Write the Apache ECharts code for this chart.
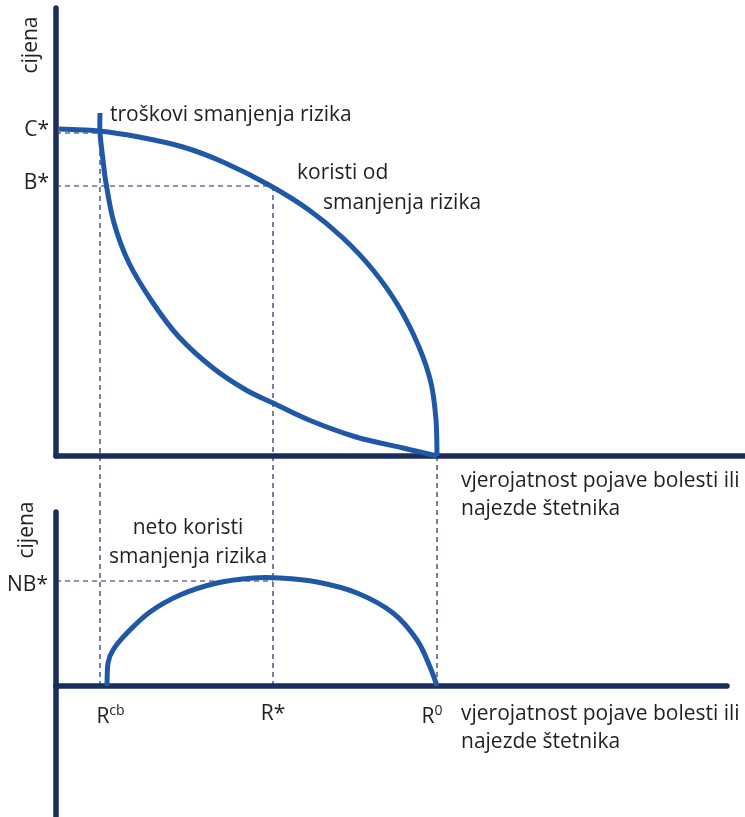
<!DOCTYPE html>
<html>
<head>
<meta charset="utf-8">
<script src="https://cdn.jsdelivr.net/npm/echarts@6/dist/echarts.min.js"></script>
<style>
  html, body { margin: 0; padding: 0; background: #fff; }
  #main { width: 745px; height: 817px; }
</style>
</head>
<body>
<div id="main"></div>
<script>
// x = vjerojatnost (rizik), y = cijena; jedinice ocitane sa slike
const benefitCurve = [[3, 327], [43, 325], [83, 319], [127, 309], [167, 294], [213, 271], [253, 246], [287, 218], [317, 186], [343, 149], [363, 109], [375, 73], [380, 36], [381, 0]];
const costCurve = [[44, 343], [44, 323], [47, 296], [50, 273], [58, 233], [73, 193], [97, 153], [123, 119], [157, 88], [190, 66], [217, 53], [253, 36], [300, 19], [347, 8], [381, 0]];
const netCurve = [[51, 0], [52, 23], [57, 36], [71, 53], [94, 74], [124, 91], [161, 103], [197, 108], [224, 108], [261, 104], [301, 93], [337, 73], [361, 46], [374, 19], [381, 0]];

const riskTicks = [44, 217, 381];          // R^cb, R*, R^0
const riskLabels = ['cb', '*', '0'];
const priceTicks = [323, 270];             // C*, B*
const priceLabels = ['C*', 'B*'];
const netTicks = [105];                    // NB*
const netLabels = ['NB*'];

const AXIS = '#1b2d5c';
const CURVE = '#1f58a6';
const TEXT = '#231f20';
const FONT = '"Open Sans", "Noto Sans", sans-serif';
const FS = 21;

// raspored
const topGrid = { left: 56, top: 8, width: 689, height: 448, outerBoundsMode: 'none', containLabel: false };
const botGrid = { left: 56, top: 512, width: 671, height: 174, outerBoundsMode: 'none', containLabel: false };
const stubGrid = { left: 56, top: 686, width: 671, height: 131, outerBoundsMode: 'none', containLabel: false };
// y u donjem sustavu na kojem lezi gornja os x
const join = (botGrid.top + botGrid.height) - (topGrid.top + topGrid.height);

const axisLine = { lineStyle: { color: AXIS, width: 5.5 } };
const hidden = { axisTick: { show: false }, splitLine: { show: false } };

const dash = { color: AXIS, width: 1.2, type: [5, 4] };
const guide = (data, grid, clip) => ({
  type: 'line', xAxisIndex: grid, yAxisIndex: grid, data: data,
  showSymbol: false, clip: clip !== false, silent: true,
  lineStyle: dash, z: 1
});

// glatka krivulja kroz ocitane tocke (Catmull-Rom -> Bezier)
function smoothPath (pts) {
  let d = 'M' + pts[0][0] + ' ' + pts[0][1];
  for (let i = 0; i < pts.length - 1; i++) {
    const p0 = pts[i - 1] || pts[i];
    const p1 = pts[i];
    const p2 = pts[i + 1];
    const p3 = pts[i + 2] || p2;
    const c1x = p1[0] + (p2[0] - p0[0]) / 6, c1y = p1[1] + (p2[1] - p0[1]) / 6;
    const c2x = p2[0] - (p3[0] - p1[0]) / 6, c2y = p2[1] - (p3[1] - p1[1]) / 6;
    d += ' C' + c1x + ' ' + c1y + ' ' + c2x + ' ' + c2y + ' ' + p2[0] + ' ' + p2[1];
  }
  return d;
}
const curve = (data, grid) => ({
  type: 'custom', xAxisIndex: grid, yAxisIndex: grid, data: data,
  encode: { x: 0, y: 1 }, silent: true, z: 3,
  renderItem: (params, api) => {
    if (params.dataIndex !== 0) return null;
    const pts = data.map(p => api.coord(p));
    return {
      type: 'path',
      shape: { pathData: smoothPath(pts) },
      style: { stroke: CURVE, lineWidth: 5, fill: 'none' }
    };
  }
});

// pomak oznaka R kako stoje na slici
const riskFmt = {
  cb: s => '{sp|}{r|R}{s|' + s + '}',
  '*': s => '{r|R' + s + '}',
  '0': s => '{r|R}{s|' + s + '}{sq|}'
};

const txt = (text, x, y, align, rot) => ({
  type: 'text', x: x, y: y, rotation: rot || 0,
  style: { text: text, font: FS + 'px ' + FONT, fill: TEXT, align: align || 'left', verticalAlign: 'middle' }
});

const chart = echarts.init(document.getElementById('main'));
const option = {
  animation: false,
  backgroundColor: '#fff',
  textStyle: { fontFamily: FONT, color: TEXT },
  grid: [topGrid, botGrid, stubGrid],
  xAxis: [
    Object.assign({ type: 'value', gridIndex: 0, min: 0, max: topGrid.width, axisLine: axisLine, axisLabel: { show: false } }, hidden),
    Object.assign({
      type: 'value', gridIndex: 1, min: 0, max: botGrid.width, axisLine: axisLine,
      axisLabel: {
        customValues: riskTicks,
        margin: 18,
        formatter: v => {
          const s = riskLabels[riskTicks.indexOf(v)];
          return riskFmt[s](s);
        },
        rich: {
          r: { fontFamily: FONT, fontSize: FS, color: TEXT },
          s: { fontFamily: FONT, fontSize: 14, color: TEXT, padding: [0, 0, 12, 0] },
          sp: { width: 21 },
          sq: { width: 10 }
        }
      }
    }, hidden),
    { type: 'value', gridIndex: 2, min: 0, max: stubGrid.width, show: false }
  ],
  yAxis: [
    Object.assign({
      type: 'value', gridIndex: 0, min: 0, max: topGrid.height, axisLine: axisLine,
      axisLabel: {
        customValues: priceTicks, margin: 7,
        formatter: v => '{a|' + priceLabels[priceTicks.indexOf(v)] + '}',
        rich: { a: { fontFamily: FONT, fontSize: FS, color: TEXT, padding: [0, 0, 5, 0] } }
      }
    }, hidden),
    Object.assign({
      type: 'value', gridIndex: 1, min: 0, max: botGrid.height, axisLine: axisLine,
      axisLabel: {
        customValues: netTicks, margin: 8,
        formatter: v => '{a|' + netLabels[netTicks.indexOf(v)] + '}',
        rich: { a: { fontFamily: FONT, fontSize: FS, color: TEXT, padding: [9, 0, 0, 0] } }
      }
    }, hidden),
    Object.assign({ type: 'value', gridIndex: 2, min: -stubGrid.height, max: 0, axisLine: axisLine, axisLabel: { show: false } }, hidden)
  ],
  series: [
    // isprekidane pomocne linije
    guide([[0, priceTicks[0]], [riskTicks[0], priceTicks[0]]], 0),
    guide([[0, priceTicks[1]], [riskTicks[1], priceTicks[1]]], 0),
    guide([[riskTicks[0], priceTicks[0]], [riskTicks[0], 0]], 0),
    guide([[riskTicks[1], priceTicks[1]], [riskTicks[1], 0]], 0),
    guide([[riskTicks[0], join], [riskTicks[0], 0]], 1, false),
    guide([[riskTicks[1], join], [riskTicks[1], 0]], 1, false),
    guide([[riskTicks[2], join], [riskTicks[2], 0]], 1, false),
    guide([[0, netTicks[0]], [riskTicks[1], netTicks[0]]], 1),
    // krivulje
    curve(benefitCurve, 0),
    curve(costCurve, 0),
    curve(netCurve, 1)
  ],
  graphic: [
    txt('cijena', 31, 45, 'center', Math.PI / 2),
    txt('cijena', 27, 530, 'center', Math.PI / 2),
    txt('troškovi smanjenja rizika', 110, 115),
    txt('koristi od', 297, 173),
    txt('smanjenja rizika', 323, 203),
    txt('vjerojatnost pojave bolesti ili', 461, 481),
    txt('najezde štetnika', 461, 509),
    txt('neto koristi', 188, 528, 'center'),
    txt('smanjenja rizika', 188, 557, 'center'),
    txt('vjerojatnost pojave bolesti ili', 461, 714),
    txt('najezde štetnika', 461, 742)
  ]
};
chart.setOption(option);
</script>
</body>
</html>
